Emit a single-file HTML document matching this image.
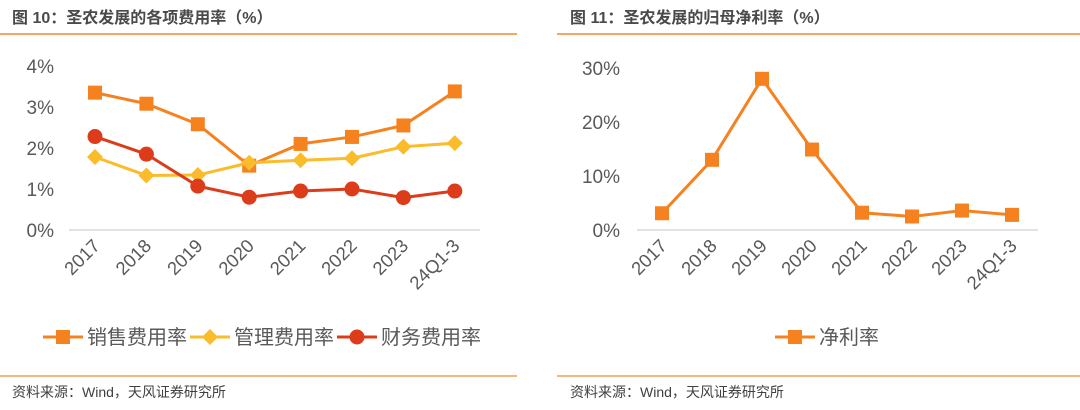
<!DOCTYPE html>
<html><head><meta charset="utf-8"><style>
body{margin:0;width:1080px;height:410px;background:#fff;overflow:hidden;font-family:"Liberation Sans","Noto Sans CJK SC",sans-serif}
svg{position:absolute;left:0;top:0}
</style></head><body>
<svg id="s" width="1080" height="410">
<text x="12" y="23" font-size="16" font-weight="bold" fill="#4a4a4a">图 10：圣农发展的各项费用率（%）</text>
<line x1="0" y1="34" x2="517" y2="34" stroke="#f28a2e" stroke-width="1.5"/>
<text x="570" y="23" font-size="16" font-weight="bold" fill="#4a4a4a">图 11：圣农发展的归母净利率（%）</text>
<line x1="557" y1="34" x2="1080" y2="34" stroke="#f28a2e" stroke-width="1.5"/>
<line x1="0" y1="376" x2="517" y2="376" stroke="#f28a2e" stroke-width="1.2"/>
<line x1="557" y1="376" x2="1080" y2="376" stroke="#f28a2e" stroke-width="1.2"/>
<text x="12" y="397" font-size="14" fill="#404040">资料来源：Wind，天风证券研究所</text>
<text x="570" y="397" font-size="14" fill="#404040">资料来源：Wind，天风证券研究所</text>
</svg>
<script>
const categories=["2017","2018","2019","2020","2021","2022","2023","24Q1-3"];
const salesRate=[3.35,3.08,2.58,1.57,2.1,2.27,2.55,3.38];
const mgmtRate=[1.78,1.33,1.34,1.64,1.70,1.75,2.03,2.12];
const finRate=[2.28,1.85,1.07,0.80,0.95,1.00,0.79,0.95];
const netMargin=[3.1,13.0,28.0,14.9,3.2,2.5,3.6,2.8];
const leftTicks=[0,1,2,3,4];
const rightTicks=[0,10,20,30];

const svg=document.getElementById('s');
const NS='http://www.w3.org/2000/svg';
function mk(tag,attrs){const e=document.createElementNS(NS,tag);for(const k in attrs)e.setAttribute(k,attrs[k]);svg.appendChild(e);return e;}

function drawAxes(prefix,x0,step,axL,axR,yf,ticks,tickX){
  const ax=mk('line',{x1:axL,y1:yf(0),x2:axR,y2:yf(0),stroke:'#d9d9d9','stroke-width':1.5});
  
  
  ticks.forEach(t=>{
    const tx=mk('text',{x:tickX,y:yf(t)+7,'font-size':19,fill:'#595959','text-anchor':'end'});
    tx.textContent=t+'%';
    
    
  });
  categories.forEach((c,i)=>{
    const x=x0+i*step+6,y=yf(0)+17;
    const tx=mk('text',{x:x,y:y,'font-size':18.5,fill:'#595959','text-anchor':'end',transform:`rotate(-45 ${x} ${y})`});
    tx.textContent=c;
    
    
  });
}
function marker(type,x,y,color,name){
  let m;
  if(type==='sq') m=mk('rect',{x:x-7,y:y-7,width:14,height:14,fill:color});
  else if(type==='di') m=mk('polygon',{points:`${x},${y-8} ${x+8},${y} ${x},${y+8} ${x-8},${y}`,fill:color});
  else m=mk('circle',{cx:x,cy:y,r:7.5,fill:color});
  
  
}
function series(vals,xf,yf,color,type,name){
  const p=mk('polyline',{points:vals.map((v,i)=>xf(i)+','+yf(v)).join(' '),fill:'none',stroke:color,'stroke-width':3,'stroke-linejoin':'round'});
  
  
  vals.forEach((v,i)=>marker(type,xf(i),yf(v),color,name+'-point'));
}
const lx=i=>95+i*51.4, ly=v=>230-v*41;
drawAxes('left',95,51.4,69,480,ly,leftTicks,54);
series(salesRate,lx,ly,'#f5821f','sq','sales-rate');
series(mgmtRate,lx,ly,'#fbbc2c','di','mgmt-rate');
series(finRate,lx,ly,'#dc3c1a','ci','fin-rate');
const rx=i=>662+i*50, ry=v=>230-v*5.4;
drawAxes('right',662,50,637,1038,ry,rightTicks,620);
series(netMargin,rx,ry,'#f5821f','sq','net-margin');
function legend(x,color,type,label,name){
  const l=mk('line',{x1:x,y1:337,x2:x+40,y2:337,stroke:color,'stroke-width':3});
  
  
  marker(type,x+20,337,color,name+'-legend-marker');
  const t=mk('text',{x:x+44,y:344,'font-size':20,fill:'#595959'});
  t.textContent=label;
  
  
}
legend(43,'#f5821f','sq','销售费用率','sales-rate');
legend(190,'#fbbc2c','di','管理费用率','mgmt-rate');
legend(337,'#dc3c1a','ci','财务费用率','fin-rate');
legend(775,'#f5821f','sq','净利率','net-margin');
</script>
</body></html>
